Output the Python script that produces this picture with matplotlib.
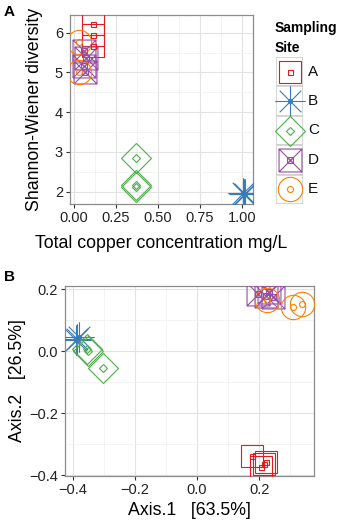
import numpy as np
import matplotlib
matplotlib.use("Agg")
import matplotlib.pyplot as plt
from matplotlib.path import Path
from matplotlib.patches import Rectangle
from matplotlib.ticker import MultipleLocator

plt.rcParams["font.family"] = ["Liberation Sans", "DejaVu Sans"]

# ---------------- data ----------------
sites = ["A", "B", "C", "D", "E"]

# panel A: copper vs Shannon-Wiener diversity
div_site = ["A", "A", "A", "B", "B", "B", "C", "C", "C",
            "D", "D", "D", "D", "E", "E"]
div_copper = [0.115, 0.115, 0.115, 1.01, 1.02, 1.015, 0.37, 0.37, 0.37,
              0.06, 0.07, 0.06, 0.065, 0.03, 0.03]
div_shannon = [6.21, 5.94, 5.67, 1.96, 1.93, 1.94, 2.84, 2.17, 2.12,
               5.54, 5.36, 5.17, 5.00, 5.77, 5.02]

# panel B: PCoA ordination
pcoa_site = ["A", "A", "A", "A", "B", "B", "B", "C", "C", "C",
             "D", "D", "D", "D", "E", "E", "E"]
pcoa_axis1 = [0.177, 0.221, 0.205, 0.215, -0.385, -0.39, -0.38,
              -0.355, -0.304, -0.352, 0.195, 0.22, 0.245, 0.232,
              0.224, 0.309, 0.336]
pcoa_axis2 = [-0.339, -0.357, -0.375, -0.365, 0.04, 0.035, 0.045,
              0.006, -0.055, 0.0, 0.185, 0.18, 0.176, 0.19,
              0.165, 0.142, 0.152]

# ---------------- style ----------------
COLORS = {"A": "#E41A1C", "B": "#377EB8", "C": "#4DAF4A",
          "D": "#984EA3", "E": "#FF7F00"}
GRID_MAJ = "#E3E3E3"
GRID_MIN = "#F1F1F1"
BORDER = "#8C8C8C"


def square_x_path():
    v = [(-0.5, -0.5), (0.5, -0.5), (0.5, 0.5), (-0.5, 0.5), (-0.5, -0.5),
         (-0.5, -0.5), (0.5, 0.5), (-0.5, 0.5), (0.5, -0.5)]
    c = [Path.MOVETO, Path.LINETO, Path.LINETO, Path.LINETO, Path.LINETO,
         Path.MOVETO, Path.LINETO, Path.MOVETO, Path.LINETO]
    return Path(v, c)


def asterisk_path():
    d = 0.5 / np.sqrt(2)
    v = [(-0.5, 0), (0.5, 0), (0, -0.5), (0, 0.5),
         (-d, -d), (d, d), (-d, d), (d, -d)]
    c = [Path.MOVETO, Path.LINETO] * 4
    return Path(v, c)


# (big marker, big size, small marker, small size, small filled)
MARKERS = {
    "A": ("s", 15.5, "s", 3.6, False),
    "B": (asterisk_path(), 22, "o", 2.8, True),
    "C": ("D", 15.5, "D", 4.0, False),
    "D": (square_x_path(), 16.5, square_x_path(), 4.3, False),
    "E": ("o", 17.5, "o", 4.3, False),
}
LW = 0.8


def draw_point(ax, x, y, site, clip=True):
    col = COLORS[site]
    bm, bs, sm, ss, filled = MARKERS[site]
    ax.plot(x, y, linestyle="none", marker=bm, markersize=bs,
            markerfacecolor="none", markeredgecolor=col, mew=LW,
            clip_on=clip, zorder=3)
    ax.plot(x, y, linestyle="none", marker=sm, markersize=ss,
            markerfacecolor=col if filled else "none",
            markeredgecolor=col, mew=LW, clip_on=clip, zorder=4)


def style_axes(ax):
    ax.set_facecolor("white")
    ax.grid(True, which="major", color=GRID_MAJ, lw=0.8, zorder=0)
    ax.grid(True, which="minor", color=GRID_MIN, lw=0.6, zorder=0)
    ax.set_axisbelow(True)
    for s in ax.spines.values():
        s.set_color(BORDER)
        s.set_linewidth(0.9)
    ax.tick_params(which="major", length=3, width=0.8, color="#333333",
                   labelsize=10.5, labelcolor="#222222", pad=2)
    ax.tick_params(which="minor", length=0)


W, H = 340, 527
fig = plt.figure(figsize=(W / 100, H / 100), dpi=100)
fig.patch.set_facecolor("white")


def px_axes(left, top, right, bottom):
    return fig.add_axes([left / W, 1 - bottom / H, (right - left) / W,
                         (bottom - top) / H])


# ---------------- panel A ----------------
ax1 = px_axes(70, 15, 253, 204)
style_axes(ax1)
for s, x, y in zip(div_site, div_copper, div_shannon):
    draw_point(ax1, x, y, s)
ax1.set_xlim(-0.024, 1.067)
ax1.set_ylim(1.69, 6.445)
ax1.set_xticks([0, 0.25, 0.5, 0.75, 1.0])
ax1.set_xticklabels(["0.00", "0.25", "0.50", "0.75", "1.00"])
ax1.xaxis.set_minor_locator(MultipleLocator(0.125))
ax1.set_yticks([2, 3, 4, 5, 6])
ax1.yaxis.set_minor_locator(MultipleLocator(0.5))
ax1.set_xlabel("Total copper concentration mg/L", fontsize=12.8)
ax1.set_ylabel("Shannon-Wiener diversity", fontsize=12.8)
ax1.xaxis.set_label_coords(0.497, -0.165)
ax1.yaxis.set_label_coords(-0.148, 0.5)

# legend drawn by hand
lax = px_axes(276, 57, 303, 204)
lax.set_xlim(0, 1)
lax.set_ylim(0, 5)
lax.axis("off")
for i, s in enumerate(sites):
    yc = 4.5 - i
    lax.add_patch(Rectangle((0, yc - 0.5), 1, 1, facecolor="white",
                            edgecolor="#D0D0D0", lw=1.2, zorder=1))
    draw_point(lax, 0.5, yc, s, clip=False)
    fig.text(308 / W, 1 - (57 + 29.4 * (i + 0.5)) / H, s, fontsize=11,
             ha="left", va="center", color="#111111")
fig.text(275 / W, 1 - 38 / H, "Sampling\nSite", fontsize=10,
         fontweight="bold", ha="left", va="center", linespacing=1.5)

# ---------------- panel B ----------------
ax2 = px_axes(65, 286, 314, 476)
style_axes(ax2)
for s, x, y in zip(pcoa_site, pcoa_axis1, pcoa_axis2):
    draw_point(ax2, x, y, s)
ax2.set_xlim(-0.425, 0.376)
ax2.set_ylim(-0.403, 0.211)
ax2.set_xticks([-0.4, -0.2, 0.0, 0.2])
ax2.set_yticks([-0.4, -0.2, 0.0, 0.2])
ax2.xaxis.set_minor_locator(MultipleLocator(0.1))
ax2.yaxis.set_minor_locator(MultipleLocator(0.1))
ax2.set_xlabel("Axis.1   [63.5%]", fontsize=12.8)
ax2.set_ylabel("Axis.2   [26.5%]", fontsize=12.8)
ax2.xaxis.set_label_coords(0.5, -0.135)
ax2.yaxis.set_label_coords(-0.155, 0.5)

# panel letters
fig.text(4 / W, 1 - 12 / H, "A", fontsize=11, fontweight="bold",
         ha="left", va="center")
fig.text(4 / W, 1 - 277 / H, "B", fontsize=11, fontweight="bold",
         ha="left", va="center")

fig.savefig("out.png", dpi=100, facecolor="white")
